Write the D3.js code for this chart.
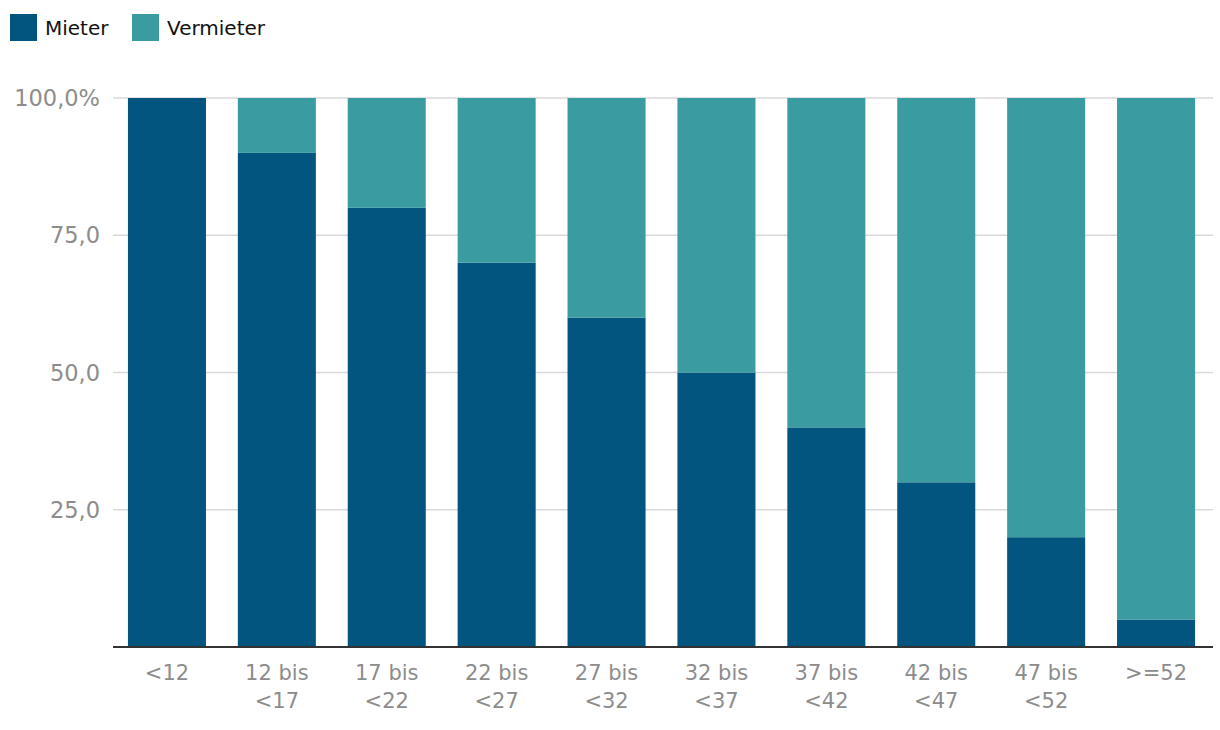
<!DOCTYPE html>
<html><head><meta charset="utf-8">
<script src="https://cdn.jsdelivr.net/npm/d3@7"></script>
<style>body{margin:0;background:#fff;} text{font-family:"DejaVu Sans",sans-serif;}</style>
</head><body><svg id="c" width="1220" height="730"></svg>
<script>
const categories = ["<12","12 bis\n<17","17 bis\n<22","22 bis\n<27","27 bis\n<32","32 bis\n<37","37 bis\n<42","42 bis\n<47","47 bis\n<52",">=52"];
const mieter = [100,90,80,70,60,50,40,30,20,5];
const vermieter = [0,10,20,30,40,50,60,70,80,95];
const seriesNames = ["Mieter","Vermieter"];
const colors = ["#01557f","#3a9ca1"];
const yTicks = [25,50,75,100];
const yTickLabels = ["25,0","50,0","75,0","100,0%"];

const svg = d3.select("#c");
const x = d3.scaleBand().domain(categories).range([112,1211]).paddingInner(0.29).paddingOuter(0.145);
const y = d3.scaleLinear().domain([0,100]).range([647,98]);

// gridlines
svg.append("g").selectAll("line").data(yTicks).join("line")
  .attr("x1",113).attr("x2",1213).attr("y1",d=>y(d)).attr("y2",d=>y(d))
  .attr("stroke","#d9d9d9").attr("stroke-width",1.5);

// y labels
svg.append("g").selectAll("text").data(yTicks).join("text")
  .attr("x",100).attr("y",d=>y(d)).attr("dy","0.36em").attr("text-anchor","end")
  .attr("fill","#8c8c8c").attr("font-size",22.5).text((d,i)=>yTickLabels[i]);

const stacked = d3.stack().keys([0,1]).value((d,k)=>k===0?d.m:d.v)(categories.map((c,i)=>({c,m:mieter[i],v:vermieter[i]})));
svg.append("g").selectAll("g").data(stacked).join("g").attr("fill",(d,i)=>colors[i])
  .selectAll("rect").data(d=>d).join("rect")
  .attr("x",d=>x(d.data.c)).attr("width",x.bandwidth())
  .attr("y",d=>y(d[1])).attr("height",d=>y(d[0])-y(d[1]));

// baseline
svg.append("line").attr("x1",113).attr("x2",1213).attr("y1",647).attr("y2",647).attr("stroke","#333").attr("stroke-width",2);

// x labels
const xl = svg.append("g").selectAll("text").data(categories).join("text")
  .attr("x",d=>x(d)+x.bandwidth()/2).attr("y",680).attr("text-anchor","middle")
  .attr("fill","#8c8c8c").attr("font-size",21);
xl.each(function(d){
  const t=d3.select(this);
  d.split("\n").forEach((s,i)=>t.append("tspan").attr("x",x(d)+x.bandwidth()/2).attr("dy",i?28:0).text(s));
});

// legend
const lg = svg.append("g");
const lx=[10,132];
seriesNames.forEach((n,i)=>{
  lg.append("rect").attr("x",lx[i]).attr("y",14).attr("width",27).attr("height",27).attr("fill",colors[i]);
  lg.append("text").attr("x",lx[i]+35).attr("y",27.5).attr("dy","0.36em").attr("font-size",20).attr("fill","#111").text(n);
});
</script></body></html>
